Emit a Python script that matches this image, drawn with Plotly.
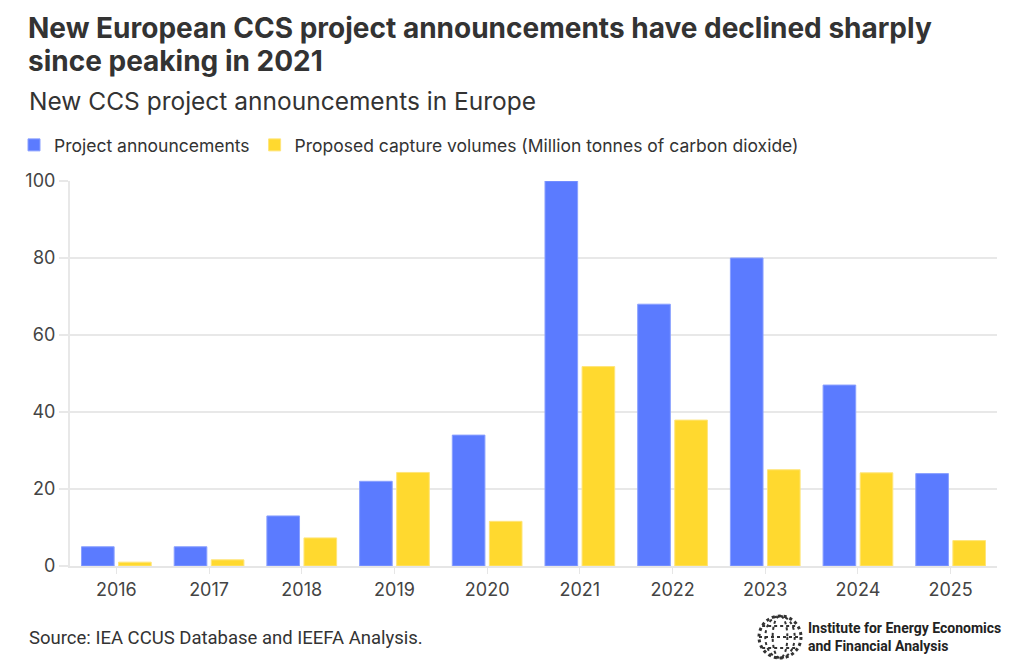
import plotly.graph_objects as go

years = ["2016", "2017", "2018", "2019", "2020", "2021", "2022", "2023", "2024", "2025"]
project_announcements = [5, 5, 13, 22, 34, 100, 68, 80, 47, 24]
capture_volumes = [1.0, 1.6, 7.3, 24.3, 11.6, 51.8, 37.9, 25.0, 24.2, 6.6]
y_ticks = [0, 20, 40, 60, 80, 100]

BLUE = "#5b7bff"
YELLOW = "#ffd92f"

W, H = 1021, 671
L, R, T, B = 70, 24, 181, 105

fig = go.Figure()
fig.add_trace(go.Bar(
    x=years, y=project_announcements, name="Project announcements",
    marker=dict(color=BLUE, line=dict(color="#8aa0ff", width=1)),
))
fig.add_trace(go.Bar(
    x=years, y=capture_volumes,
    name="Proposed capture volumes (Million tonnes of carbon dioxide)",
    marker=dict(color=YELLOW, line=dict(color="#ffe57a", width=1)),
))

def px_x(px):
    return (px - L) / (W - L - R)

def px_y(py):
    return (H - B - py) / (H - T - B)

fig.update_layout(
    width=W, height=H,
    margin=dict(l=L, r=R, t=T, b=B),
    paper_bgcolor="white", plot_bgcolor="white",
    font=dict(family="Inter, Roboto, sans-serif", color="#444"),
    barmode="group", bargap=0.2, bargroupgap=0.12,
    legend=dict(
        orientation="h", x=px_x(14), xref="paper", xanchor="left",
        y=px_y(145), yanchor="middle",
        font=dict(family="Inter", size=17.5, color="#333"),
        itemwidth=30, traceorder="normal",
        bgcolor="rgba(0,0,0,0)",
    ),
    showlegend=True,
)

fig.update_xaxes(
    type="category", showgrid=False,
    showline=True, linecolor="#e6e6e6", linewidth=2,
    ticks="outside", tickcolor="#e6e6e6", ticklen=6, tickwidth=1,
    tickfont=dict(family="Inter", size=18, color="#444"),
)
fig.update_yaxes(
    range=[0, 100], tickvals=y_ticks,
    showgrid=True, gridcolor="#e8e8e8", gridwidth=2,
    showline=True, linecolor="#e8e8e8", linewidth=2,
    zeroline=False,
    ticks="outside", tickcolor="#e8e8e8", ticklen=9, tickwidth=2,
    tickfont=dict(family="Inter", size=18, color="#444"),
)

# title (two lines)
fig.add_annotation(
    text="<b>New European CCS project announcements have declined sharply</b>",
    xref="paper", yref="paper", x=px_x(26), y=px_y(28),
    xanchor="left", yanchor="middle", showarrow=False,
    font=dict(family="Inter", size=28, color="#333"),
)
fig.add_annotation(
    text="<b>since peaking in 2021</b>",
    xref="paper", yref="paper", x=px_x(26), y=px_y(61),
    xanchor="left", yanchor="middle", showarrow=False,
    font=dict(family="Inter", size=28, color="#333"),
)
# subtitle
fig.add_annotation(
    text="New CCS project announcements in Europe",
    xref="paper", yref="paper", x=px_x(27), y=px_y(101),
    xanchor="left", yanchor="middle", showarrow=False,
    font=dict(family="Inter", size=24.5, color="#333"),
)
# source
fig.add_annotation(
    text="Source: IEA CCUS Database and IEEFA Analysis.",
    xref="paper", yref="paper", x=px_x(27), y=px_y(638),
    xanchor="left", yanchor="middle", showarrow=False,
    font=dict(family="Roboto", size=18.5, color="#333"),
)
# logo text
fig.add_annotation(
    text="<b>Institute for Energy Economics<br>and Financial Analysis</b>",
    xref="paper", yref="paper", x=px_x(806), y=px_y(637),
    xanchor="left", yanchor="middle", showarrow=False, align="left",
    font=dict(family="Liberation Sans Narrow, Roboto", size=14, color="#222"),
)
# logo globe (decorative)
cx, cy, r = 780, 637, 21
fig.add_shape(type="circle", xref="paper", yref="paper",
              x0=px_x(cx - r), x1=px_x(cx + r), y0=px_y(cy + r), y1=px_y(cy - r),
              line=dict(color="#333", width=3, dash="dot"), fillcolor="white")
for k in (0.35, 0.7):
    fig.add_shape(type="circle", xref="paper", yref="paper",
                  x0=px_x(cx - r * k), x1=px_x(cx + r * k), y0=px_y(cy + r), y1=px_y(cy - r),
                  line=dict(color="#333", width=2, dash="dot"))
for dy in (-11, 0, 11):
    k = 1.0 if dy == 0 else 0.85
    fig.add_shape(type="line", xref="paper", yref="paper",
                  x0=px_x(cx - r * k), x1=px_x(cx + r * k), y0=px_y(cy + dy), y1=px_y(cy + dy),
                  line=dict(color="#333", width=2, dash="dot"))

fig.write_html("out.html")
